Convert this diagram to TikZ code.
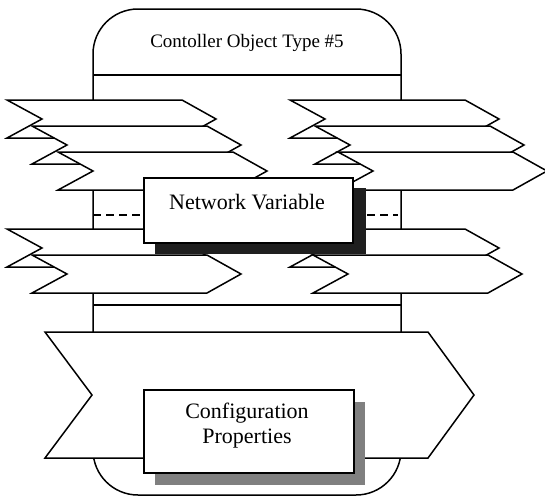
\documentclass[tikz,border=0pt]{standalone}
\usepackage{fontspec}
\setmainfont{Liberation Serif}
\begin{document}
\begin{tikzpicture}[x=1pt,y=-1pt,line join=miter,
  outline/.style={draw=black,line width=1.5pt,fill=white},
  sepline/.style={draw=black,line width=1.5pt},
  dashline/.style={draw=black,line width=1.2pt,dash pattern=on 8pt off 5pt},
  tag/.pic={\path[outline] (0,0) -- (175,0) -- (209,19) -- (175,38) -- (0,38) -- (35,19) -- cycle;},
  boxlabel/.style={font=\fontsize{22}{25}\selectfont,align=center,inner sep=0pt},
  box/.style={outline,rectangle,inner sep=0pt,anchor=north west}]
\useasboundingbox (0,0) rectangle (545,498);

% object container with its title bar
\path[outline,rounded corners=45pt] (93,9) rectangle (401,495);
\node[font=\fontsize{19}{22}\selectfont,inner sep=0pt] (title) at (247,43) {Contoller Object Type \#5};
\draw[sepline] (93,75) -- (401,75);
\draw[sepline] (93,305) -- (401,305);
\draw[dashline] (93,215) -- (143,215);
\draw[dashline] (367,215) -- (398,215);

% input and output tags, upper rows
\pic at (7,100) {tag};
\pic at (32,126) {tag};
\pic at (58,152) {tag};
\pic at (290,100) {tag};
\pic at (315,126) {tag};
\pic at (338,152) {tag};

% input and output tags, lower rows
\pic at (7,229) {tag};
\pic at (32,255) {tag};
\pic at (290,229) {tag};
\pic at (313,255) {tag};

% network variable box with its shadow
\fill[black!88] (155,188) rectangle (366,254);
\node[box,minimum width=209pt,minimum height=65pt] (nvbox) at (143,177) {};
\node[boxlabel] (nvlabel) at (247,202) {Network Variable};

% configuration band
\path[outline] (45,332) -- (428,332) -- (474,395) -- (428,458) -- (45,458) -- (92,395) -- cycle;
\fill[black!50] (155,402) rectangle (365,485);
\node[box,minimum width=210pt,minimum height=83pt] (cfgbox) at (143,389) {};
\node[boxlabel] (cfglabel) at (247,426) {Configuration\\Properties};
\end{tikzpicture}
\end{document}
